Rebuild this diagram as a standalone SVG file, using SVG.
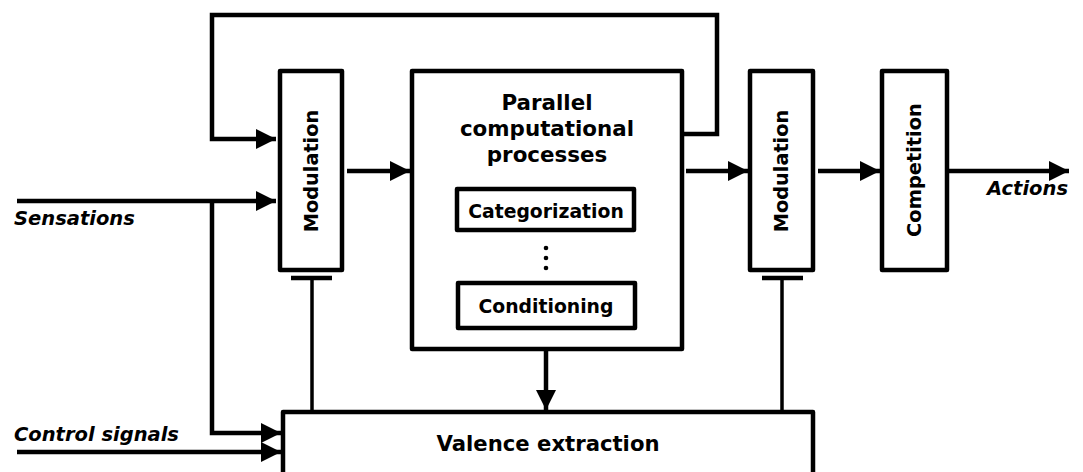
<svg xmlns="http://www.w3.org/2000/svg" width="1083" height="472" viewBox="0 0 1083 472">
<defs>
<marker id="ah" viewBox="0 0 20 20" refX="20" refY="10" markerWidth="20" markerHeight="20" markerUnits="userSpaceOnUse" orient="auto">
<path d="M0,0 L20,10 L0,20 Z" fill="#000"/>
</marker>
</defs>
<style>
.box{fill:#fff;stroke:#000;stroke-width:4.5;stroke-linejoin:round}
.ln{fill:none;stroke:#000;stroke-width:4.5}
.tn{fill:none;stroke:#000;stroke-width:3.5}
text{font-family:"DejaVu Sans",sans-serif;font-weight:bold;fill:#000}
.lbl{font-style:italic;font-size:19.5px}
</style>
<rect width="1083" height="472" fill="#fff"/>
<g id="connectors">
<polyline class="ln" points="684,134 717,134 717,15 212,15 212,139 276,139" marker-end="url(#ah)"/>
<line class="ln" x1="17" y1="201" x2="276" y2="201" marker-end="url(#ah)"/>
<polyline class="ln" points="212,201 212,433 281,433" marker-end="url(#ah)"/>
<line class="ln" x1="17" y1="452" x2="281" y2="452" marker-end="url(#ah)"/>
<line class="ln" x1="347" y1="171" x2="410" y2="171" marker-end="url(#ah)"/>
<line class="ln" x1="686" y1="171" x2="748" y2="171" marker-end="url(#ah)"/>
<line class="ln" x1="818" y1="171" x2="880" y2="171" marker-end="url(#ah)"/>
<line class="ln" x1="949" y1="171" x2="1069" y2="171" marker-end="url(#ah)"/>
<line class="ln" x1="546" y1="351" x2="546" y2="410" marker-end="url(#ah)"/>
<line class="ln" x1="291" y1="278" x2="332" y2="278"/>
<line class="tn" x1="312" y1="278" x2="312" y2="412"/>
<line class="ln" x1="762" y1="278" x2="803" y2="278"/>
<line class="tn" x1="782" y1="278" x2="782" y2="412"/>
</g>
<g id="modulation1">
<rect class="box" x="280" y="71" width="62" height="199"/>
<text transform="translate(318,171) rotate(-90)" text-anchor="middle" font-size="19.3">Modulation</text>
</g>
<g id="parallel">
<rect class="box" x="412" y="71" width="270" height="278"/>
<text x="547" y="110" text-anchor="middle" font-size="21.4">Parallel</text>
<text x="547" y="136" text-anchor="middle" font-size="21.4">computational</text>
<text x="547" y="162" text-anchor="middle" font-size="21.4">processes</text>
<circle cx="546" cy="248" r="2.3"/>
<circle cx="546" cy="258" r="2.3"/>
<circle cx="546" cy="268" r="2.3"/>
</g>
<g id="categorization">
<rect class="box" x="457" y="189" width="177" height="41"/>
<text x="546" y="218" text-anchor="middle" font-size="18.8">Categorization</text>
</g>
<g id="conditioning">
<rect class="box" x="458" y="283" width="177" height="45"/>
<text x="546" y="313" text-anchor="middle" font-size="18.8">Conditioning</text>
</g>
<g id="modulation2">
<rect class="box" x="750" y="71" width="63" height="199"/>
<text transform="translate(788,171) rotate(-90)" text-anchor="middle" font-size="19.3">Modulation</text>
</g>
<g id="competition">
<rect class="box" x="882" y="71" width="65" height="199"/>
<text transform="translate(921,170) rotate(-90)" text-anchor="middle" font-size="19.4">Competition</text>
</g>
<g id="valence">
<rect class="box" x="283" y="412" width="530" height="80"/>
<text x="548" y="451" text-anchor="middle" font-size="21.2">Valence extraction</text>
</g>
<g id="labels">
<text class="lbl" x="14" y="225">Sensations</text>
<text class="lbl" x="14" y="441">Control signals</text>
<text class="lbl" x="1068" y="195" text-anchor="end">Actions</text>
</g>
</svg>
